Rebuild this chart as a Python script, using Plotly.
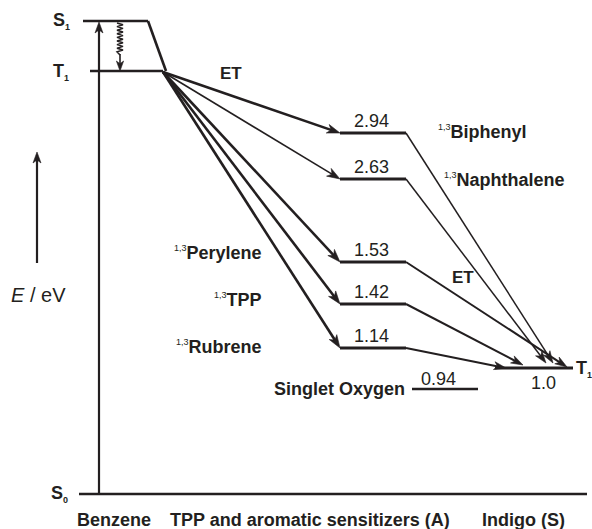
import math
import plotly.graph_objects as go

# ---------------- data ----------------
sensitizers = ["Biphenyl", "Naphthalene", "Perylene", "TPP", "Rubrene"]
sensitizer_T1 = [2.94, 2.63, 1.53, 1.42, 1.14]      # eV
indigo_T1 = 1.0                                      # eV
singlet_oxygen = 0.94                                # eV
column_labels = ["Benzene", "TPP and aromatic sensitizers (A)", "Indigo (S)"]
state_labels = ["S<sub><span style='font-size:9px'>1</span></sub>",
                "T<sub><span style='font-size:9px'>1</span></sub>",
                "S<sub><span style='font-size:9px'>0</span></sub>"]

# ---------------- schematic layout (diagram coordinates) ----------------
W, H = 592, 529
INK = "#231f20"
FONT = "Liberation Sans, Arial, sans-serif"

benz_S1_y, benz_T1_y, S0_y = 21, 71, 494
benz_x = 99
level_y = [133, 179, 262, 304, 348]
level_x0, level_x1 = 340, 406
indigo_y = 368
indigo_x0, indigo_x1 = 495, 573
indigo_tip_x = [553, 546, 567, 523, 506]
indigo_tip_y = [363, 363, 367, 365, 368]
src_x, src_y = 163, 72
in_width = [2.6, 1.6, 2.6, 2.6, 2.6]
out_width = [1.5, 1.5, 2.0, 2.0, 2.0]
name_pos = [(437, 132, "left"), (443, 180, "left"), (263, 253, "right"),
            (263, 300, "right"), (263, 347, "right")]
ox_y, ox_x0, ox_x1 = 389, 412, 478
col_x = [114, 310, 523]
col_y = 520

fig = go.Figure()
shapes = []
ann = []


def line(x0, y0, x1, y1, w=2.6):
    shapes.append(dict(type="line", xref="x", yref="y", x0=x0, y0=y0, x1=x1, y1=y1,
                       line=dict(color=INK, width=w)))


def arrow(xt, yt, xh, yh, w=2.6, L=12.0, hw=4.2):
    dx, dy = xh - xt, yh - yt
    d = math.hypot(dx, dy)
    ux, uy = dx / d, dy / d
    nx, ny = -uy, ux
    bx, by = xh - L * ux, yh - L * uy
    kx, ky = xh - 0.72 * L * ux, yh - 0.72 * L * uy
    line(xt, yt, kx + 0.5 * ux, ky + 0.5 * uy, w)
    path = (f"M{xh:.2f},{yh:.2f} L{bx + hw * nx:.2f},{by + hw * ny:.2f} "
            f"L{kx:.2f},{ky:.2f} L{bx - hw * nx:.2f},{by - hw * ny:.2f} Z")
    shapes.append(dict(type="path", xref="x", yref="y", path=path,
                       fillcolor=INK, line=dict(color=INK, width=0.6)))


def label(x, y, text, size=18, bold=True, xanchor="center"):
    t = f"<b>{text}</b>" if bold else text
    ann.append(dict(x=x, y=y, xref="x", yref="y", text=t, showarrow=False,
                    xanchor=xanchor, yanchor="middle", borderpad=0,
                    font=dict(family=FONT, size=size, color=INK)))


# Benzene levels
line(83, benz_S1_y, 148, benz_S1_y)
line(148, benz_S1_y, 166, benz_T1_y)
line(90, benz_T1_y, 163, benz_T1_y)
line(79, S0_y, 587, S0_y)
arrow(benz_x, S0_y, benz_x, benz_S1_y + 1, w=2.2, L=11, hw=4)

# wavy intersystem crossing arrow
zx, zy = [], []
yy = benz_S1_y + 2
k = 0
while yy <= 52:
    zx.append(120 + (3 if k % 2 else -3))
    zy.append(yy)
    yy += 1.8
    k += 1
zx.append(120)
zy.append(55)
fig.add_trace(go.Scatter(x=zx, y=zy, mode="lines", line=dict(color=INK, width=1.5),
                         hoverinfo="skip", showlegend=False))
arrow(120, 54, 120, benz_T1_y, w=1.6, L=10, hw=3.6)

# sensitizer levels and energy transfer arrows
for i, e in enumerate(sensitizer_T1):
    y = level_y[i]
    line(level_x0, y, level_x1, y, w=2.8)
    arrow(src_x, src_y, level_x0, y, w=in_width[i], L=13, hw=4.5)
    arrow(level_x1, y, indigo_tip_x[i], indigo_tip_y[i], w=out_width[i], L=12, hw=4)
    label(371, y - 12, f"{e:.2f}", size=18, bold=False)
    nx, ny, anc = name_pos[i]
    label(nx, ny, f"<sup><span style='font-size:9px;font-weight:normal'>1,3</span></sup>{sensitizers[i]}",
          size=18, xanchor=anc)

# indigo T1 and singlet oxygen
line(indigo_x0, indigo_y, indigo_x1, indigo_y, w=2.8)
label(543, indigo_y + 15, f"{indigo_T1:.1f}", size=18, bold=False)
label(575, indigo_y + 1, state_labels[1], size=18, xanchor="left")
line(ox_x0, ox_y, ox_x1, ox_y, w=2.4)
label(438, ox_y - 10, f"{singlet_oxygen:.2f}", size=18, bold=False)
label(339, ox_y, "Singlet Oxygen", size=18)

# ET labels
label(231, 73, "ET", size=17)
label(463, 277, "ET", size=17)

# state labels
label(52, benz_S1_y, state_labels[0], size=18, xanchor="left")
label(52, benz_T1_y + 1, state_labels[1], size=18, xanchor="left")
label(50, S0_y, state_labels[2], size=18, xanchor="left")

# energy axis arrow
arrow(37, 263, 37, 152, w=2.2, L=11, hw=4)
label(38, 295, "<i>E</i> / eV", size=20, bold=False)

# column labels
for cx, name in zip(col_x, column_labels):
    label(cx, col_y, name, size=18)

fig.update_layout(
    width=W, height=H, margin=dict(l=0, r=0, t=0, b=0),
    paper_bgcolor="white", plot_bgcolor="white",
    xaxis=dict(range=[0, W], visible=False, fixedrange=True),
    yaxis=dict(range=[H, 0], visible=False, fixedrange=True),
    shapes=shapes, annotations=ann, showlegend=False,
)
fig.write_html("out.html", config={"displayModeBar": False},
               post_script="document.body.style.margin='0';document.body.style.overflow='hidden';")
